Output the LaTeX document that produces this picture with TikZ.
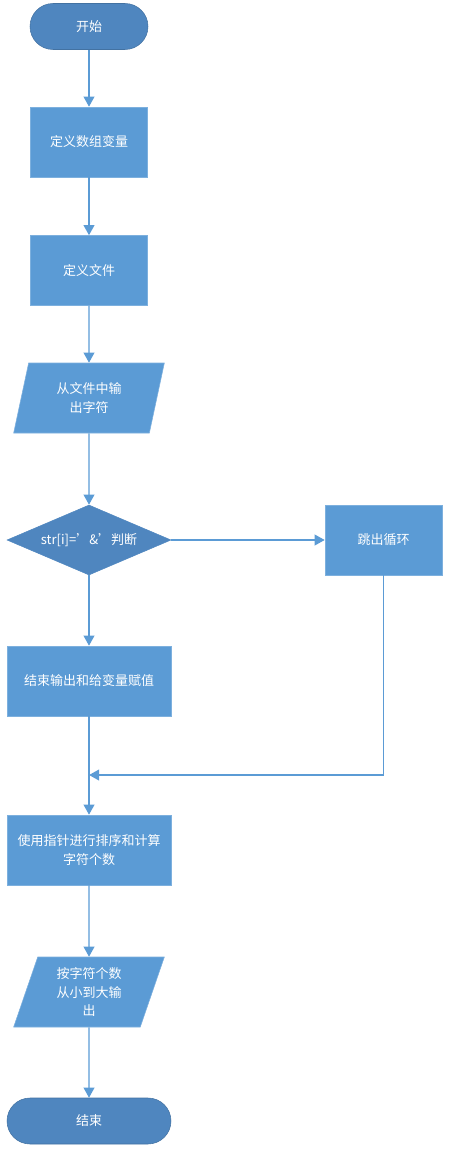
\documentclass[tikz,border=0pt]{standalone}
\usepackage{fontspec}
\newfontfamily\cjk{Noto Sans CJK SC}
\usetikzlibrary{shapes.geometric,arrows.meta}

\definecolor{boxblue}{HTML}{5B9BD5}
\definecolor{termblue}{HTML}{4F86BF}
\definecolor{edgeblue}{HTML}{7DB0DE}

\tikzset{
  flowtext/.style={text=white,font=\cjk\fontsize{9.75}{14}\selectfont,align=center,inner sep=0pt},
  procbox/.style={flowtext,rectangle,fill=boxblue,draw=edgeblue,line width=0.4pt,minimum height=52.5pt},
  termbox/.style={flowtext,rectangle,rounded corners=17.25pt,fill=termblue,draw=termblue!85!black,line width=0.4pt,minimum height=34.5pt},
  iobox/.style={flowtext,trapezium,trapezium left angle=64,trapezium right angle=116,
    trapezium stretches body,fill=boxblue,draw=edgeblue,line width=0.4pt,minimum height=52.5pt,minimum width=113pt},
  testbox/.style={flowtext,diamond,aspect=2.34,fill=termblue,draw=termblue,line width=0.4pt,minimum width=123pt,minimum height=52.5pt},
  flow/.style={boxblue,line width=1.1pt,-{Triangle[length=7.5pt,width=8pt]}}
}

\begin{document}
\begin{tikzpicture}[x=0.75pt,y=-0.75pt]
  \useasboundingbox (0,0) rectangle (449,1155);

  \node[termbox,minimum width=88.5pt] (start) at (89,26.5) {开始};
  \node[procbox,minimum width=87.75pt] (defarr) at (89,142) {定义数组变量};
  \node[procbox,minimum width=87.75pt] (deffile) at (89,270.5) {定义文件};
  \node[iobox] (read) at (89,398) {从文件中输\\出字符};
  \node[testbox] (test) at (89,540) {str[i]=’\&’判断};
  \node[procbox,minimum width=87.75pt] (jump) at (383.5,540) {跳出循环};
  \node[procbox,minimum width=123pt] (endout) at (89,681) {结束输出和给变量赋值};
  \node[procbox,minimum width=123pt] (sort) at (89,850) {使用指针进行排序和计算\\字符个数};
  \node[iobox] (print) at (89,992) {按字符个数\\从小到大输\\出};
  \node[termbox,minimum width=123pt] (stop) at (89,1121) {结束};
  \coordinate (merge) at (89,775);

  \draw[flow] (start) -- (defarr);
  \draw[flow] (defarr) -- (deffile);
  \draw[flow] (deffile) -- (read);
  \draw[flow] (read) -- (test);
  \draw[flow] (test) -- (jump);
  \draw[flow] (test) -- (endout);
  \draw[flow] (endout) -- (sort);
  \draw[flow] (jump.south) |- (merge);
  \draw[flow] (sort) -- (print);
  \draw[flow] (print) -- (stop);
\end{tikzpicture}
\end{document}
